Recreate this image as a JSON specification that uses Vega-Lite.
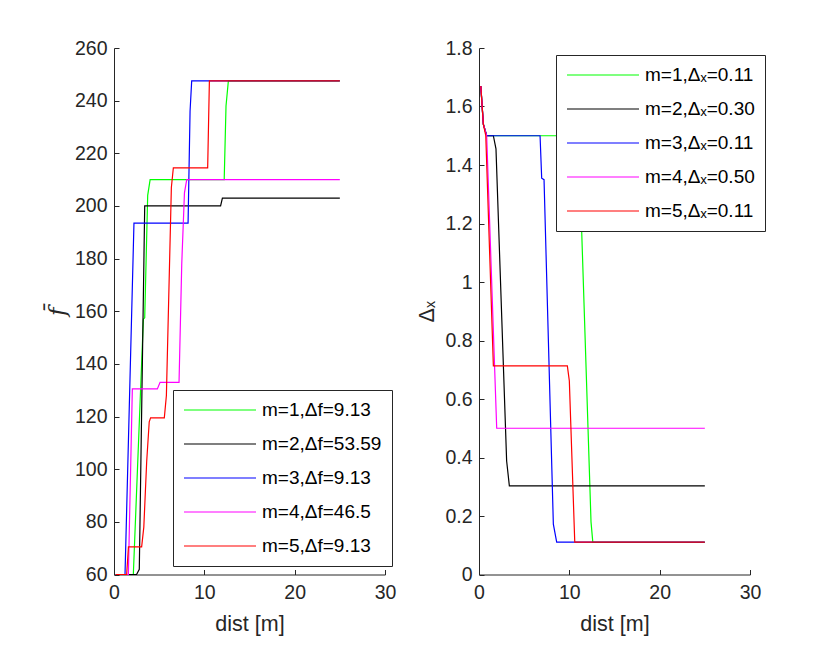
{
  "$schema": "https://vega.github.io/schema/vega-lite/v6.json",
  "background": "white",
  "padding": {"left": 46, "top": 38, "right": 5, "bottom": 5},
  "spacing": 94,
  "bounds": "flush",
  "config": {
    "view": {"stroke": null},
    "font": "Liberation Sans",
    "axis": {
      "grid": false,
      "domainColor": "#262626",
      "tickColor": "#262626",
      "labelColor": "#262626",
      "titleColor": "#262626",
      "labelFont": "Liberation Sans",
      "titleFont": "Liberation Sans",
      "labelFontSize": 19.5,
      "titleFontSize": 21.5,
      "titleFontWeight": "normal",
      "labelFlush": false,
      "tickSize": -5,
      "domainWidth": 1,
      "tickWidth": 1
    },
    "axisX": {"labelPadding": 14, "titlePadding": 11},
    "axisY": {"labelPadding": 12},
    "legend": {
      "orient": "none",
      "title": null,
      "symbolType": "M-4,0H4",
      "symbolSize": 324,
      "symbolOffset": 27,
      "symbolStrokeWidth": 1.2,
      "labelFont": "Liberation Sans",
      "labelFontSize": 19,
      "labelColor": "black",
      "labelOffset": 32,
      "strokeColor": "#262626",
      "fillColor": "white",
      "padding": 10,
      "rowPadding": 14
    }
  },
  "resolve": {"scale": {"color": "independent"}, "legend": {"color": "independent"}},
  "datasets": {
    "fbar": [
      {"series": "m=1,Δf=9.13", "dist": 0.2, "fbar": 60},
      {"series": "m=1,Δf=9.13", "dist": 2.14, "fbar": 60},
      {"series": "m=1,Δf=9.13", "dist": 3.25, "fbar": 157},
      {"series": "m=1,Δf=9.13", "dist": 3.4, "fbar": 157.5},
      {"series": "m=1,Δf=9.13", "dist": 3.73, "fbar": 204},
      {"series": "m=1,Δf=9.13", "dist": 4.0, "fbar": 210},
      {"series": "m=1,Δf=9.13", "dist": 12.2, "fbar": 210},
      {"series": "m=1,Δf=9.13", "dist": 12.4, "fbar": 238},
      {"series": "m=1,Δf=9.13", "dist": 12.66, "fbar": 247.5},
      {"series": "m=1,Δf=9.13", "dist": 25, "fbar": 247.5},
      {"series": "m=2,Δf=53.59", "dist": 0.2, "fbar": 60},
      {"series": "m=2,Δf=53.59", "dist": 2.5, "fbar": 60},
      {"series": "m=2,Δf=53.59", "dist": 2.8, "fbar": 62},
      {"series": "m=2,Δf=53.59", "dist": 3.4, "fbar": 200},
      {"series": "m=2,Δf=53.59", "dist": 11.8, "fbar": 200},
      {"series": "m=2,Δf=53.59", "dist": 12.0, "fbar": 203},
      {"series": "m=2,Δf=53.59", "dist": 25, "fbar": 203},
      {"series": "m=3,Δf=9.13", "dist": 0.2, "fbar": 60},
      {"series": "m=3,Δf=9.13", "dist": 1.22, "fbar": 60},
      {"series": "m=3,Δf=9.13", "dist": 2.21, "fbar": 193.5},
      {"series": "m=3,Δf=9.13", "dist": 8.2, "fbar": 193.5},
      {"series": "m=3,Δf=9.13", "dist": 8.42, "fbar": 236},
      {"series": "m=3,Δf=9.13", "dist": 8.6, "fbar": 247.5},
      {"series": "m=3,Δf=9.13", "dist": 25, "fbar": 247.5},
      {"series": "m=4,Δf=46.5", "dist": 0.2, "fbar": 60},
      {"series": "m=4,Δf=46.5", "dist": 1.59, "fbar": 60},
      {"series": "m=4,Δf=46.5", "dist": 2.03, "fbar": 130.5},
      {"series": "m=4,Δf=46.5", "dist": 4.8, "fbar": 130.5},
      {"series": "m=4,Δf=46.5", "dist": 5.1, "fbar": 133},
      {"series": "m=4,Δf=46.5", "dist": 7.2, "fbar": 133},
      {"series": "m=4,Δf=46.5", "dist": 7.5, "fbar": 178},
      {"series": "m=4,Δf=46.5", "dist": 7.8, "fbar": 205},
      {"series": "m=4,Δf=46.5", "dist": 8.05, "fbar": 210},
      {"series": "m=4,Δf=46.5", "dist": 25, "fbar": 210},
      {"series": "m=5,Δf=9.13", "dist": 0.2, "fbar": 60},
      {"series": "m=5,Δf=9.13", "dist": 1.4, "fbar": 60},
      {"series": "m=5,Δf=9.13", "dist": 1.6, "fbar": 70.5},
      {"series": "m=5,Δf=9.13", "dist": 3.06, "fbar": 70.5},
      {"series": "m=5,Δf=9.13", "dist": 3.3, "fbar": 78},
      {"series": "m=5,Δf=9.13", "dist": 3.62, "fbar": 103},
      {"series": "m=5,Δf=9.13", "dist": 3.9, "fbar": 118},
      {"series": "m=5,Δf=9.13", "dist": 4.05, "fbar": 119.5},
      {"series": "m=5,Δf=9.13", "dist": 5.57, "fbar": 119.5},
      {"series": "m=5,Δf=9.13", "dist": 5.8, "fbar": 128},
      {"series": "m=5,Δf=9.13", "dist": 6.35, "fbar": 207},
      {"series": "m=5,Δf=9.13", "dist": 6.57, "fbar": 214.5},
      {"series": "m=5,Δf=9.13", "dist": 10.37, "fbar": 214.5},
      {"series": "m=5,Δf=9.13", "dist": 10.56, "fbar": 247.5},
      {"series": "m=5,Δf=9.13", "dist": 25, "fbar": 247.5}
    ],
    "dx": [
      {"series": "m=1,Δₓ=0.11", "dist": 0.2, "dx": 1.67},
      {"series": "m=1,Δₓ=0.11", "dist": 0.48, "dx": 1.54},
      {"series": "m=1,Δₓ=0.11", "dist": 0.85, "dx": 1.5},
      {"series": "m=1,Δₓ=0.11", "dist": 11.03, "dx": 1.5},
      {"series": "m=1,Δₓ=0.11", "dist": 12.4, "dx": 0.18},
      {"series": "m=1,Δₓ=0.11", "dist": 12.6, "dx": 0.11},
      {"series": "m=1,Δₓ=0.11", "dist": 25, "dx": 0.11},
      {"series": "m=2,Δₓ=0.30", "dist": 0.2, "dx": 1.67},
      {"series": "m=2,Δₓ=0.30", "dist": 0.48, "dx": 1.54},
      {"series": "m=2,Δₓ=0.30", "dist": 0.85, "dx": 1.5},
      {"series": "m=2,Δₓ=0.30", "dist": 1.59, "dx": 1.5},
      {"series": "m=2,Δₓ=0.30", "dist": 1.88, "dx": 1.455},
      {"series": "m=2,Δₓ=0.30", "dist": 3.06, "dx": 0.388},
      {"series": "m=2,Δₓ=0.30", "dist": 3.36, "dx": 0.303},
      {"series": "m=2,Δₓ=0.30", "dist": 25, "dx": 0.303},
      {"series": "m=3,Δₓ=0.11", "dist": 0.2, "dx": 1.67},
      {"series": "m=3,Δₓ=0.11", "dist": 0.48, "dx": 1.54},
      {"series": "m=3,Δₓ=0.11", "dist": 0.85, "dx": 1.5},
      {"series": "m=3,Δₓ=0.11", "dist": 6.76, "dx": 1.5},
      {"series": "m=3,Δₓ=0.11", "dist": 6.94, "dx": 1.355},
      {"series": "m=3,Δₓ=0.11", "dist": 7.2, "dx": 1.35},
      {"series": "m=3,Δₓ=0.11", "dist": 8.23, "dx": 0.172},
      {"series": "m=3,Δₓ=0.11", "dist": 8.6, "dx": 0.111},
      {"series": "m=3,Δₓ=0.11", "dist": 25, "dx": 0.111},
      {"series": "m=4,Δₓ=0.50", "dist": 0.2, "dx": 1.67},
      {"series": "m=4,Δₓ=0.50", "dist": 0.48, "dx": 1.54},
      {"series": "m=4,Δₓ=0.50", "dist": 0.85, "dx": 1.5},
      {"series": "m=4,Δₓ=0.50", "dist": 1.96, "dx": 0.5},
      {"series": "m=4,Δₓ=0.50", "dist": 25, "dx": 0.5},
      {"series": "m=5,Δₓ=0.11", "dist": 0.2, "dx": 1.67},
      {"series": "m=5,Δₓ=0.11", "dist": 0.48, "dx": 1.54},
      {"series": "m=5,Δₓ=0.11", "dist": 0.75, "dx": 1.5},
      {"series": "m=5,Δₓ=0.11", "dist": 1.59, "dx": 0.713},
      {"series": "m=5,Δₓ=0.11", "dist": 9.78, "dx": 0.713},
      {"series": "m=5,Δₓ=0.11", "dist": 10.0, "dx": 0.662},
      {"series": "m=5,Δₓ=0.11", "dist": 10.6, "dx": 0.111},
      {"series": "m=5,Δₓ=0.11", "dist": 25, "dx": 0.111}
    ]
  },
  "hconcat": [
    {
      "width": 271,
      "height": 526.5,
      "data": {"name": "fbar"},
      "mark": {"type": "line", "strokeWidth": 1.2},
      "encoding": {
        "x": {
          "field": "dist",
          "type": "quantitative",
          "scale": {"domain": [0, 30], "nice": false},
          "axis": {"values": [0, 10, 20, 30], "title": "dist [m]"}
        },
        "y": {
          "field": "fbar",
          "type": "quantitative",
          "scale": {"domain": [60, 260], "nice": false, "zero": false},
          "axis": {
            "values": [60, 80, 100, 120, 140, 160, 180, 200, 220, 240, 260],
            "title": "f̄",
            "titleFont": "DejaVu Serif",
            "titleFontStyle": "italic",
            "titleFontSize": 23,
            "titlePadding": 5
          }
        },
        "color": {
          "field": "series",
          "type": "nominal",
          "scale": {
            "domain": ["m=1,Δf=9.13", "m=2,Δf=53.59", "m=3,Δf=9.13", "m=4,Δf=46.5", "m=5,Δf=9.13"],
            "range": ["#00ff00", "#000000", "#0000ff", "#ff00ff", "#ff0000"]
          },
          "legend": {"legendX": 59, "legendY": 342}
        }
      }
    },
    {
      "width": 271,
      "height": 526.5,
      "data": {"name": "dx"},
      "mark": {"type": "line", "strokeWidth": 1.2},
      "encoding": {
        "x": {
          "field": "dist",
          "type": "quantitative",
          "scale": {"domain": [0, 30], "nice": false},
          "axis": {"values": [0, 10, 20, 30], "title": "dist [m]"}
        },
        "y": {
          "field": "dx",
          "type": "quantitative",
          "scale": {"domain": [0, 1.8], "nice": false},
          "axis": {"values": [0, 0.2, 0.4, 0.6, 0.8, 1, 1.2, 1.4, 1.6, 1.8], "format": "~g", "title": "Δₓ", "titlePadding": 6}
        },
        "color": {
          "field": "series",
          "type": "nominal",
          "scale": {
            "domain": ["m=1,Δₓ=0.11", "m=2,Δₓ=0.30", "m=3,Δₓ=0.11", "m=4,Δₓ=0.50", "m=5,Δₓ=0.11"],
            "range": ["#00ff00", "#000000", "#0000ff", "#ff00ff", "#ff0000"]
          },
          "legend": {"legendX": 77, "legendY": 7}
        }
      }
    }
  ]
}
